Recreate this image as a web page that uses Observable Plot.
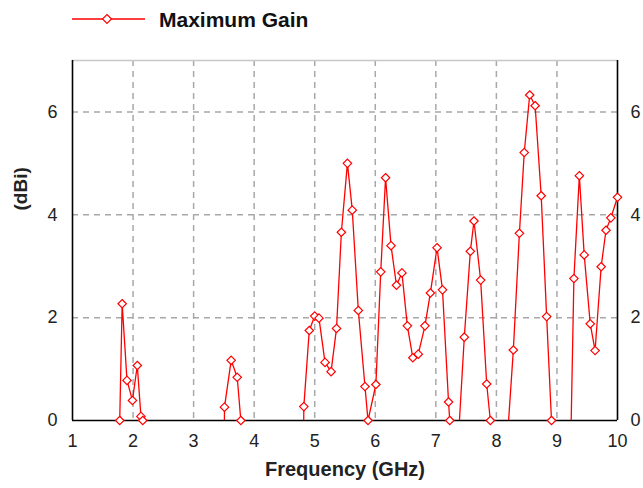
<!DOCTYPE html>
<html>
<head>
<meta charset="utf-8">
<script src="https://cdn.jsdelivr.net/npm/d3@7"></script>
<script src="https://cdn.jsdelivr.net/npm/@observablehq/plot@0.6"></script>
<style>
  html, body { margin: 0; padding: 0; background: #fff; }
  #legend { height: 40px; position: relative; }
  #chart svg { display: block; }
</style>
</head>
<body>
<div id="legend"></div>
<div id="chart"></div>
<script>
// Frequency (GHz) samples and Maximum Gain (dBi); negative values fall below the clipped axis
const freq = [
  1.78, 1.82, 1.90, 1.99, 2.07, 2.13, 2.16,
  2.25, 3.42,
  3.51, 3.62, 3.72, 3.78,
  3.87, 4.73,
  4.82, 4.91, 5.00, 5.07, 5.17, 5.27, 5.36, 5.44, 5.54, 5.62, 5.72, 5.83, 5.88,
  6.01, 6.09, 6.17, 6.26, 6.35, 6.44, 6.53, 6.62, 6.71, 6.82, 6.91, 7.02, 7.11, 7.21, 7.23,
  7.30, 7.38,
  7.47, 7.57, 7.63, 7.74, 7.84, 7.90,
  8.00, 8.19,
  8.28, 8.38, 8.46, 8.55, 8.64, 8.74, 8.83, 8.91,
  9.00, 9.19,
  9.28, 9.37, 9.45, 9.55, 9.63, 9.73, 9.81, 9.89, 10.0
];
const gain = [
  0.0, 2.27, 0.78, 0.39, 1.07, 0.08, 0.0,
  -15, -15,
  0.26, 1.17, 0.84, 0.0,
  -15, -15,
  0.27, 1.75, 2.03, 1.99, 1.13, 0.95, 1.79, 3.66, 5.0, 4.09, 2.14, 0.66, 0.0,
  0.70, 2.89, 4.72, 3.40, 2.63, 2.87, 1.84, 1.22, 1.29, 1.84, 2.48, 3.36, 2.54, 0.36, 0.0,
  -10, -0.2,
  1.62, 3.29, 3.88, 2.73, 0.71, 0.0,
  -10, -0.2,
  1.37, 3.64, 5.21, 6.33, 6.12, 4.37, 2.02, 0.0,
  -10, -2.8,
  2.76, 4.76, 3.22, 1.88, 1.36, 2.99, 3.70, 3.94, 4.34
];
const xTicks = [1, 2, 3, 4, 5, 6, 7, 8, 9, 10];
const xGrid = [2, 3, 4, 5, 6, 7, 8, 9];
const yTicks = [0, 2, 4, 6];
const yGrid = [2, 4, 6];
const seriesName = "Maximum Gain";
const xLabel = "Frequency (GHz)";
const yLabel = "(dBi)";

const data = freq.map((f, i) => ({f, g: gain[i]}));

const gridStyle = {stroke: "#a8a8a8", strokeOpacity: 1, strokeWidth: 1.5, strokeDasharray: "6,5"};

const chart = Plot.plot({
  width: 643,
  height: 448,
  marginTop: 20,
  marginBottom: 68,
  marginLeft: 72,
  marginRight: 26,
  style: {fontFamily: "'Liberation Sans', Arial, sans-serif", fontSize: "18px", color: "#000", background: "#fff"},
  x: {domain: [1, 10]},
  y: {domain: [0, 7]},
  marks: [
    Plot.gridX(xGrid, gridStyle),
    Plot.gridY(yGrid, gridStyle),
    Plot.ruleY([7], {stroke: "#c8c8c8", strokeWidth: 1.5}),
    Plot.ruleX([1, 10], {stroke: "#000", strokeWidth: 1.6}),
    Plot.ruleY([0], {stroke: "#000", strokeWidth: 1.6}),
    Plot.line(data, {x: "f", y: "g", stroke: "#ff0000", strokeWidth: 1.3, clip: true}),
    Plot.dot(data, {x: "f", y: "g", filter: d => d.g >= 0, symbol: "diamond2", r: 3.8, stroke: "#ff0000", strokeWidth: 1.2, fill: "#fff"}),
    Plot.axisX(xTicks, {tickSize: 0, tickPadding: 14, tickFormat: "d", label: null, fill: "#222"}),
    Plot.axisY(yTicks, {anchor: "left", tickSize: 0, tickPadding: 15, tickFormat: "d", label: null, fill: "#222"}),
    Plot.axisY(yTicks, {anchor: "right", tickSize: 0, tickPadding: 13, tickFormat: "d", label: null, fill: "#222", textAnchor: "start"}),
    Plot.text([xLabel], {frameAnchor: "bottom", dy: 55, fontWeight: "bold", fontSize: 20, fill: "#222"}),
    Plot.text([yLabel], {frameAnchor: "left", dx: -52, dy: -30, rotate: -90, fontWeight: "bold", fontSize: 19, fill: "#222"})
  ]
});
document.getElementById("chart").appendChild(chart);

// Legend above the plot
const ns = "http://www.w3.org/2000/svg";
const lg = document.createElementNS(ns, "svg");
lg.setAttribute("width", 643);
lg.setAttribute("height", 40);
lg.innerHTML = `
  <line x1="72" x2="145" y1="19" y2="19" stroke="#ff0000" stroke-width="1.3"/>
  <path d="M107,14.5 L111.5,19 L107,23.5 L102.5,19 Z" fill="#fff" stroke="#ff0000" stroke-width="1.2"/>
  <text x="159" y="27" font-family="'Liberation Sans', Arial, sans-serif" font-weight="bold" font-size="21" fill="#111"></text>`;
lg.querySelector("text").textContent = seriesName;
document.getElementById("legend").appendChild(lg);
</script>
</body>
</html>
